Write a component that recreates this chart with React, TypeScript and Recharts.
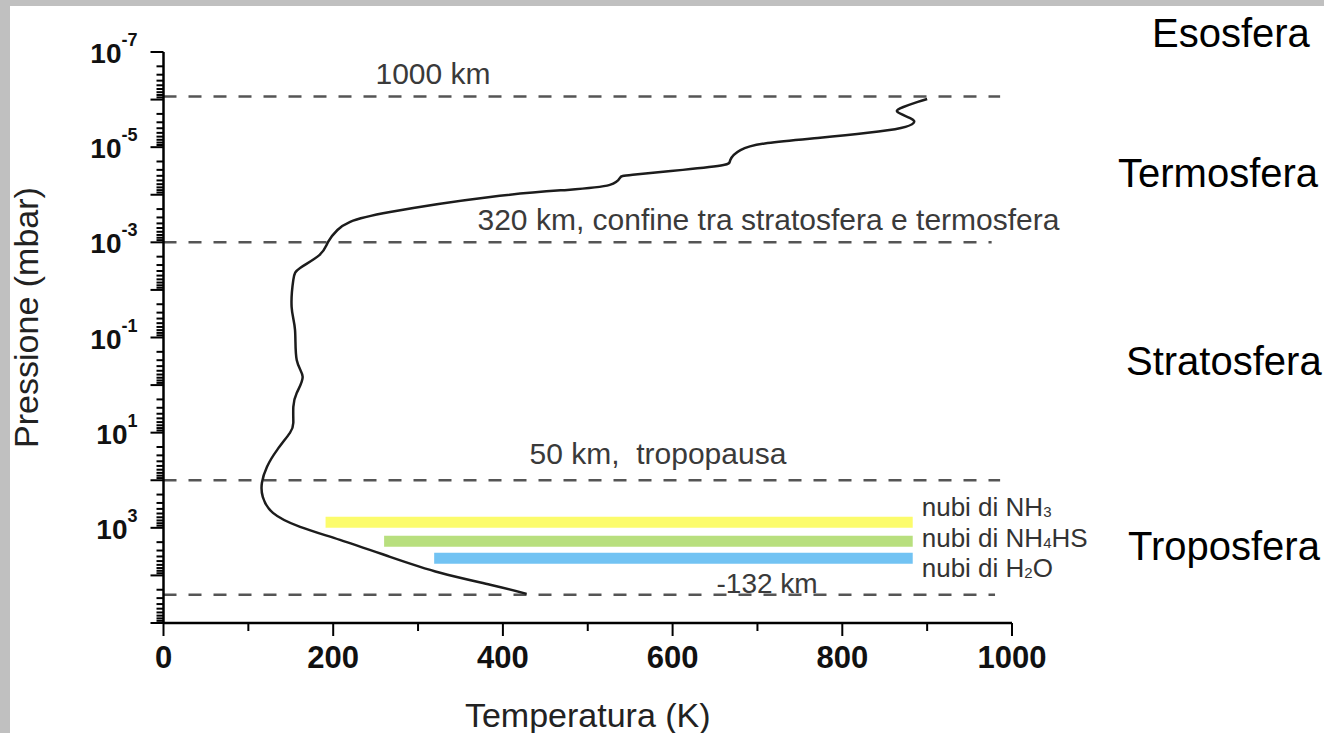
import { LineChart, Line, XAxis, YAxis, ReferenceLine, Label } from 'recharts'

// temperature profile, listed from the deepest level up to the top of the thermosphere
const profileT = [428, 385, 326, 267, 208, 161, 129, 117, 116, 122, 134, 149, 153, 153, 157, 164, 157, 155, 151, 153, 161, 184, 194, 205, 220, 267, 385, 476, 526, 538, 553, 612, 660, 668, 680, 712, 771, 830, 869, 884, 880, 865, 872, 889, 900]
const profileP = [2.44e4, 1.57e4, 8.8e3, 4.07e3, 1.79e3, 953, 484, 223, 113, 52, 23, 10.1, 6.2, 2.87, 1.46, 0.67, 0.296, 0.069, 0.0228, 0.00617, 0.00345, 0.00184, 9.8e-4, 5.5e-4, 3.7e-4, 2.3e-4, 1.11e-4, 7.9e-5, 6.2e-5, 4.4e-5, 3.8e-5, 3.0e-5, 2.37e-5, 1.86e-5, 1.15e-5, 8.2e-6, 6.4e-6, 5.0e-6, 3.95e-6, 3.1e-6, 2.44e-6, 1.82e-6, 1.43e-6, 1.12e-6, 9.7e-7]

// layer boundaries (dashed)
const layerP = [8.6e-7, 1e-3, 100, 2.56e4]
const layerEndT = [986, 976, 986, 980]
const layerNotes = ['1000 km', '320 km, confine tra stratosfera e termosfera', '50 km,  tropopausa', '-132 km']

// cloud decks
const cloudP = [766, 1920, 4370]
const cloudFromT = [191, 260, 319]
const cloudToT = [883, 883, 883]
const cloudFormula = [['NH', '3', ''], ['NH', '4', 'HS'], ['H', '2', 'O']]

const regionNames = ['Esosfera', 'Termosfera', 'Stratosfera', 'Troposfera']

const xTicks = [0, 100, 200, 300, 400, 500, 600, 700, 800, 900, 1000]
const yLabelExps = [-7, -5, -3, -1, 1, 3]
const yExps = [-7, -6, -5, -4, -3, -2, -1, 0, 1, 2, 3, 4]
const yTicks = [...yExps.flatMap((e) => [1, 2, 3, 4, 5, 6, 7, 8, 9].map((k) => k * 10 ** e)), 1e5]

const profile = profileT.map((t, i) => ({ t, p: profileP[i] }))

const FONT = '"Liberation Sans", Arial, Helvetica, sans-serif'
const noteDx = [212, 314, 366, 553]
const noteDy = [-12, -12, -16, -2]
const noteSize = [30, 30, 30, 28]
const cloudColors = ['#fcfc6c', '#b8df7e', '#72c3f3']
const cloudLabelDy = [-6, 6, 19]
const regionPos = [
  { x: 1152, y: 47 },
  { x: 1118, y: 187 },
  { x: 1126, y: 375 },
  { x: 1128, y: 560 },
]

function YTick({ x, y, payload }: any) {
  const v = payload.value
  const e = Math.round(Math.log10(v))
  const decade = Math.abs(v / 10 ** e - 1) < 1e-6
  const len = decade ? 13 : 7
  return (
    <g>
      <line x1={x - len} x2={x} y1={y} y2={y} stroke="#000" strokeWidth={2} />
      {decade && yLabelExps.includes(e) && (
        <text x={x - 26} y={y + 11} textAnchor="end" fontFamily={FONT} fill="#111" fontWeight="bold">
          <tspan fontSize={28}>10</tspan>
          <tspan fontSize={18} dy={-17}>{String(e)}</tspan>
        </text>
      )}
    </g>
  )
}

function XTick({ x, y, payload }: any) {
  const v = payload.value
  const major = v % 200 === 0
  return (
    <g>
      <line x1={x} x2={x} y1={y} y2={y + (major ? 13 : 8)} stroke="#000" strokeWidth={2} />
      {major && (
        <text x={x} y={y + 45} textAnchor="middle" fontFamily={FONT} fontSize={31} fontWeight="bold" fill="#111">
          {v}
        </text>
      )}
    </g>
  )
}

export default function App() {
  return (
    <div style={{ position: 'absolute', left: 0, top: 0, width: 1324, height: 733, background: '#c0c0c0', overflow: 'hidden' }}>
      <div style={{ position: 'absolute', left: 10, top: 6, right: 0, bottom: 0, background: '#fff' }} />
      <div style={{ position: 'absolute', left: 0, top: 0 }}>
        <LineChart width={1324} height={733} data={profile} margin={{ top: 52, right: 312, bottom: 0, left: 13.5 }}>
          <XAxis
            type="number"
            dataKey="t"
            domain={[0, 1000]}
            ticks={xTicks}
            interval={0}
            height={110}
            tickSize={0}
            tickMargin={0}
            tickLine={false}
            axisLine={{ stroke: '#000', strokeWidth: 2.5 }}
            tick={(p: any) => <XTick {...p} />}
          >
            <Label
              content={(p: any) => (
                <text x={p.viewBox.x + p.viewBox.width / 2} y={p.viewBox.y + 104} textAnchor="middle" fontFamily={FONT} fontSize={34} fill="#222">
                  Temperatura (K)
                </text>
              )}
            />
          </XAxis>
          <YAxis
            type="number"
            dataKey="p"
            scale="log"
            domain={[1e-7, 1e5]}
            reversed
            allowDataOverflow
            ticks={yTicks}
            interval={0}
            width={150}
            tickSize={0}
            tickMargin={0}
            tickLine={false}
            axisLine={{ stroke: '#000', strokeWidth: 2.5 }}
            tick={(p: any) => <YTick {...p} />}
          >
            <Label
              content={(p: any) => {
                const cx = p.viewBox.x + 24.5
                const cy = p.viewBox.y + p.viewBox.height / 2 - 20
                return (
                  <text x={cx} y={cy} transform={`rotate(-90 ${cx} ${cy})`} textAnchor="middle" fontFamily={FONT} fontSize={34} fill="#222">
                    Pressione (mbar)
                  </text>
                )
              }}
            />
          </YAxis>

          {layerP.map((p, i) => (
            <ReferenceLine
              key={`layer-${i}`}
              segment={[{ x: 0, y: p }, { x: layerEndT[i], y: p }]}
              stroke="#555"
              strokeWidth={2.5}
              strokeDasharray="13 12"
              ifOverflow="visible"
              label={
                <Label
                  content={(lp: any) => (
                    <text
                      x={lp.viewBox.x + noteDx[i]}
                      y={lp.viewBox.y + noteDy[i]}
                      fontFamily={FONT}
                      fontSize={noteSize[i]}
                      fill="#3a3a3a"
                      style={{ whiteSpace: 'pre' }}
                    >
                      {layerNotes[i]}
                    </text>
                  )}
                />
              }
            />
          ))}

          {cloudP.map((p, i) => (
            <ReferenceLine
              key={`cloud-${i}`}
              segment={[{ x: cloudFromT[i], y: p }, { x: cloudToT[i], y: p }]}
              stroke={cloudColors[i]}
              strokeWidth={11}
              ifOverflow="visible"
              label={
                <Label
                  content={(lp: any) => (
                    <text x={lp.viewBox.x + lp.viewBox.width + 9} y={lp.viewBox.y + cloudLabelDy[i]} fontFamily={FONT} fontSize={26} fill="#333">
                      {'nubi di ' + cloudFormula[i][0]}
                      <tspan fontSize={15} dy={1}>{cloudFormula[i][1]}</tspan>
                      <tspan dy={-1}>{cloudFormula[i][2]}</tspan>
                    </text>
                  )}
                />
              }
            />
          ))}

          <Line dataKey="p" type="natural" stroke="#1c1c1c" strokeWidth={2.5} dot={false} isAnimationActive={false} />
        </LineChart>
      </div>
      <svg width={1324} height={733} style={{ position: 'absolute', left: 0, top: 0, pointerEvents: 'none' }}>
        {regionNames.map((name, i) => (
          <text key={name} x={regionPos[i].x} y={regionPos[i].y} fontFamily={FONT} fontSize={40} fill="#000">
            {name}
          </text>
        ))}
      </svg>
    </div>
  )
}
